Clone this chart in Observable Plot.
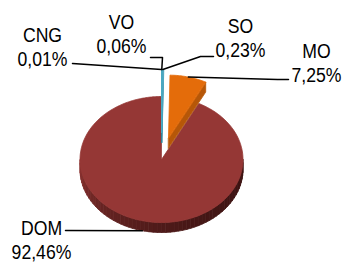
<!DOCTYPE html>
<html><head><meta charset="utf-8">
<script src="https://cdn.jsdelivr.net/npm/d3@7"></script>
<script src="https://cdn.jsdelivr.net/npm/@observablehq/plot@0.6"></script>
<style>html,body{margin:0;padding:0;background:#fff;}</style>
</head><body><div id="chart"></div>
<script>
// ---- data ----
const categories = ["CNG", "VO", "SO", "MO", "DOM"];
const values = [0.01, 0.06, 0.23, 7.25, 92.46];
const valueLabels = ["0,01%", "0,06%", "0,23%", "7,25%", "92,46%"];

// ---- style ----
const topColor = {CNG: "#b7dde8", VO: "#b7dde8", SO: "#b7dde8", MO: "#e46c0a", DOM: "#953735"};
const edgeColor = {CNG: "#4bacc6", VO: "#4bacc6", SO: "#4bacc6", MO: "#e46c0a", DOM: "#953735"};
const faceColor = {CNG: "#31859c", VO: "#31859c", SO: "#31859c", MO: "#b65708", DOM: "#6a2523"};
const sideDark = "#3e1413", sideLight = "#8a3230";
const fontSize = 21, lineHeight = 1.143;
const textSqueeze = 0.84; // the labels use a condensed face

// ---- layout (pixels) ----
const W = 345, H = 262;
const geo = {cx: 161, cy: 159, rx: 81.5, ry: 63, depth: 10};
const explode = {CNG: 0.43, VO: 0.43, SO: 0.43, MO: 0.35, DOM: 0};
// label block: centre x, cap-top y ; leader: elbow points from label side
const labelLayout = {
  CNG: {x: 42, y: 26, leader: [[72, 63]]},
  VO:  {x: 121, y: 13, leader: [[150, 57], [162, 57]]},
  SO:  {x: 240, y: 17, leader: [[213, 56], [200, 56]]},
  MO:  {x: 316, y: 42, leader: [[288, 79], [277, 79]]},
  DOM: {x: 41, y: 219.5, leader: [[65, 230]]}
};

const deg = Math.PI / 180;
const ux = px => (px - geo.cx) / geo.rx;
const uy = py => (geo.cy - py) / geo.ry;
const dz = geo.depth / geo.ry;

const arcs = d3.pie().sort(null).value((d, i) => values[i])(categories);

const shapes = []; // polygon vertices in unit space
let sid = 0;
function addPoly(pts, fill, stroke) {
  const id = sid++;
  for (const p of pts) shapes.push({id, x: p[0], y: p[1], fill, stroke});
}

const info = arcs.map(a => {
  const cat = a.data;
  const mid = (a.startAngle + a.endAngle) / 2;
  const e = explode[cat];
  const off = [e * Math.sin(mid), e * Math.cos(mid)];
  const pt = (ang, r = 1, d = 0) => [off[0] + r * Math.sin(ang), off[1] + r * Math.cos(ang) - d];
  return {cat, a0: a.startAngle, a1: a.endAngle, mid, off, pt};
});

function arcPts(s, from, to, d = 0, stepDeg = 1) {
  const n = Math.max(2, Math.ceil((to - from) / (stepDeg * deg)));
  return d3.range(n + 1).map(k => s.pt(from + (to - from) * k / n, 1, d));
}

// draw order: DOM first, then MO, then small slices
const order = ["DOM", "MO", "SO", "VO", "CNG"];
for (const cat of order) {
  const s = info.find(d => d.cat === cat);
  const lo = Math.max(s.a0, 90 * deg), hi = Math.min(s.a1, 270 * deg);
  if (hi > lo) {
    const step = 3 * deg;
    for (let a = lo; a < hi - 1e-9; a += step) {
      const b = Math.min(hi, a + step);
      const t = Math.pow(((a + b) / 2 - 90 * deg) / (180 * deg), 2.2);
      const c = d3.interpolateRgb(sideDark, sideLight)(t);
      addPoly([s.pt(a), s.pt(b), s.pt(b, 1, dz), s.pt(a, 1, dz)], c, c);
    }
  }
  if (Math.cos(s.a1 + 90 * deg) < -1e-6)
    addPoly([s.pt(s.a1, 0), s.pt(s.a1), s.pt(s.a1, 1, dz), s.pt(s.a1, 0, dz)], faceColor[cat], faceColor[cat]);
  if (Math.cos(s.a0 - 90 * deg) < -1e-6)
    addPoly([s.pt(s.a0, 0), s.pt(s.a0), s.pt(s.a0, 1, dz), s.pt(s.a0, 0, dz)], faceColor[cat], faceColor[cat]);
  addPoly([s.pt(0, 0), ...arcPts(s, s.a0, s.a1)], topColor[cat], edgeColor[cat]);
}

// leader lines: from label elbows to slice anchor
const leaders = [];
info.forEach(s => {
  const L = labelLayout[s.cat];
  const anchor = s.cat === "DOM" ? s.pt(s.mid, 1, dz) : s.pt(s.mid, 1.0);
  const pts = [...L.leader.map(p => [ux(p[0]), uy(p[1])]), anchor];
  pts.forEach(p => leaders.push({id: s.cat, x: p[0], y: p[1]}));
});

// Plot puts the first baseline 0.71*lineHeight em below y; cap height is ~0.716em
const capShift = (0.71 * lineHeight - 0.716) * fontSize;
const labels = categories.map((c, i) => ({
  x: ux(labelLayout[c].x), y: uy(labelLayout[c].y - capShift), text: c + "\n" + valueLabels[i]
}));

const chart = Plot.plot({
  width: W, height: H, margin: 0,
  x: {domain: [ux(0), ux(W)], axis: null},
  y: {domain: [uy(H), uy(0)], axis: null},
  color: {type: "identity"},
  style: {background: "#fff", overflow: "visible"},
  marks: [
    Plot.line(shapes, {x: "x", y: "y", z: "id", fill: "fill", stroke: "stroke", strokeWidth: 0.8, curve: "linear-closed"}),
    Plot.line(leaders, {x: "x", y: "y", z: "id", stroke: "#000", strokeWidth: 1.5}),
    Plot.text(labels, {x: "x", y: "y", text: "text", fontSize, lineHeight, lineAnchor: "top",
      textAnchor: "middle", fill: "#000", fontFamily: "'Liberation Sans', Arial, sans-serif"})
  ]
});
document.getElementById("chart").appendChild(chart);
// condense the label glyphs horizontally around their anchor
chart.querySelectorAll("text").forEach(t => {
  const tr = t.getAttribute("transform") || "";
  if (/translate/.test(tr)) {
    t.setAttribute("transform", tr + ` scale(${textSqueeze},1)`);
  } else {
    t.querySelectorAll("tspan").forEach(s => {
      s.setAttribute("textLength", (s.getComputedTextLength() * textSqueeze).toFixed(2));
      s.setAttribute("lengthAdjust", "spacingAndGlyphs");
    });
  }
});
</script>
</body></html>
